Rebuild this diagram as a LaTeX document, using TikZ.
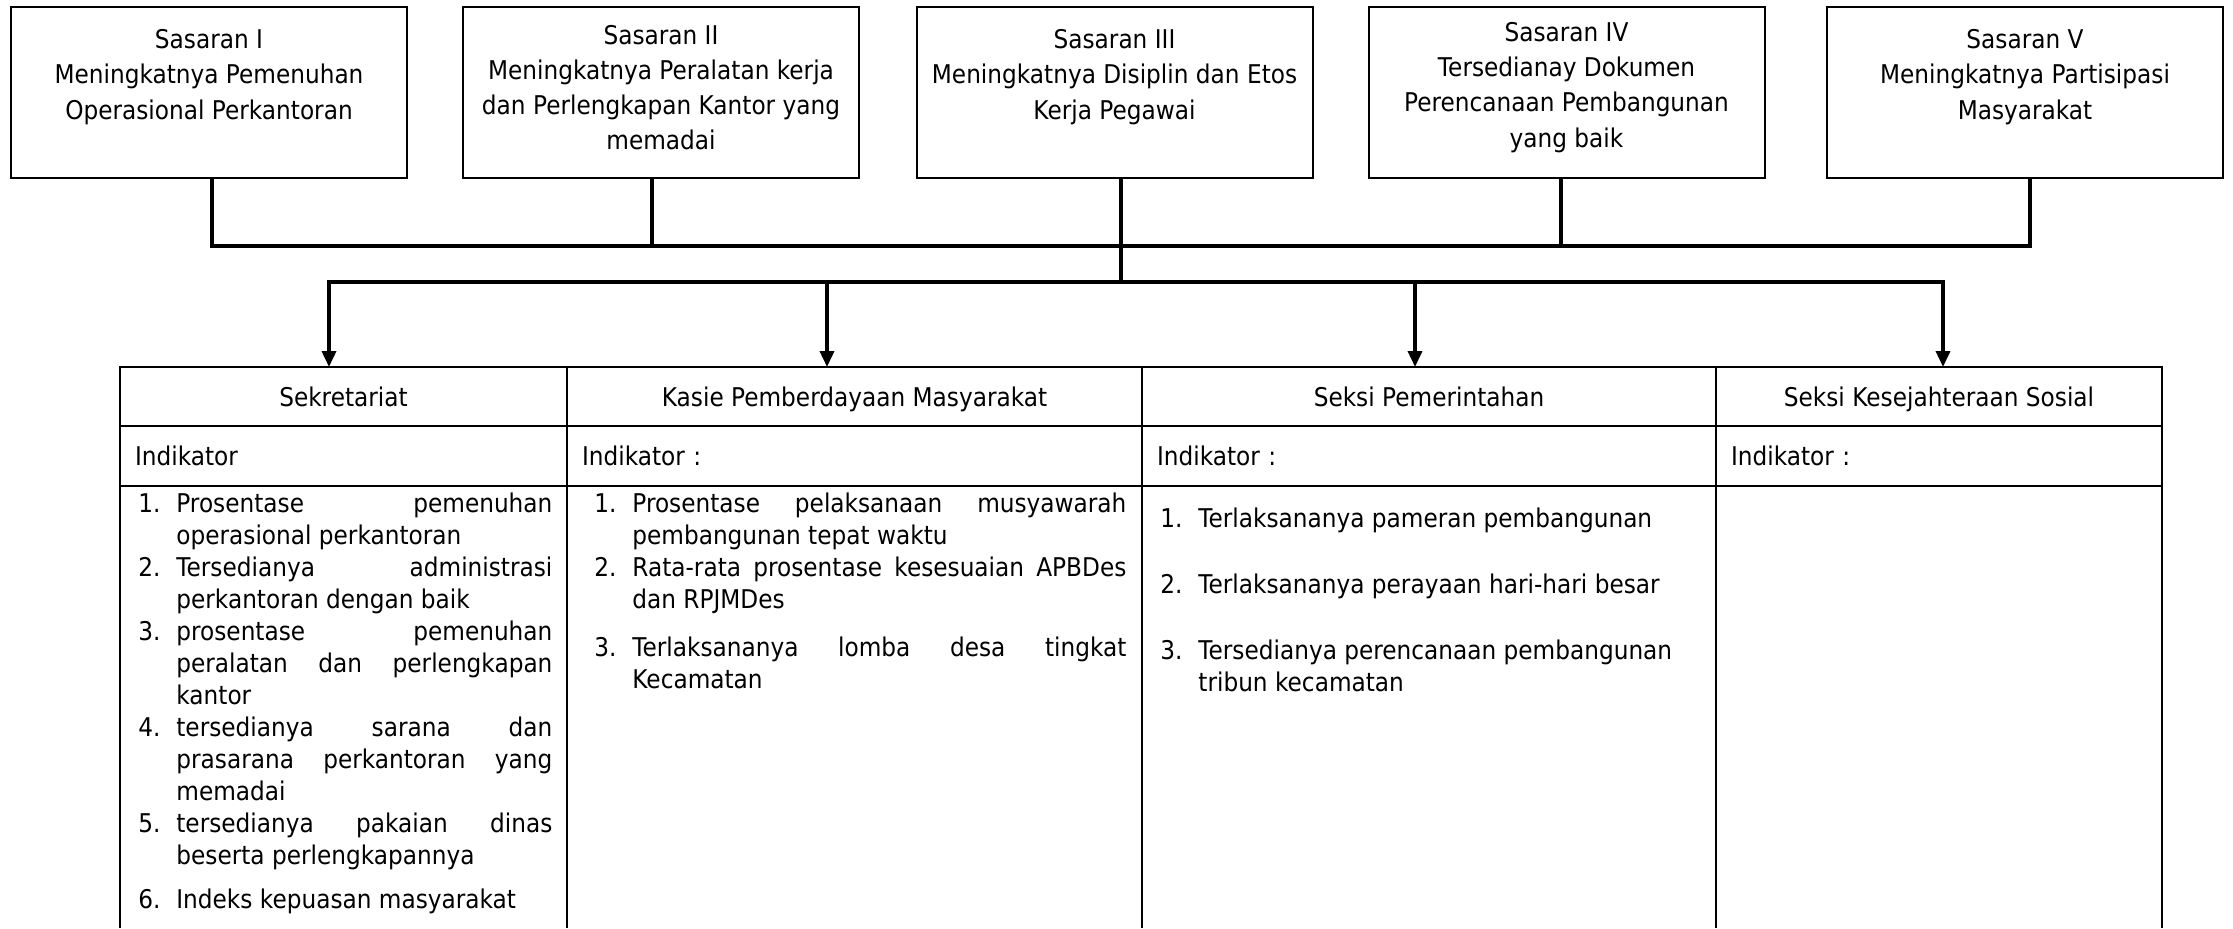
\documentclass[tikz,border=0pt]{standalone}
\usepackage{fontspec}
\setmainfont{DejaVu Sans}[FakeStretch=0.9]
\usetikzlibrary{arrows.meta}

% nomor butir daftar dengan indentasi gantung
\newcommand{\nomor}[2]{\par\hangindent=19pt\hangafter=1\noindent\makebox[19pt][l]{#1}#2}
\newcommand{\rapi}{\hyphenpenalty=10000 \exhyphenpenalty=10000 \tolerance=10000 \hbadness=10000 }

\begin{document}
\begin{tikzpicture}[x=0.5pt,y=-0.5pt,
        font=\fontsize{12.9}{17.6}\selectfont,
        sasaran/.style={draw,line width=1pt,minimum width=198pt,minimum height=85.5pt},
        judul/.style={align=center,inner sep=0pt},
        kepala/.style={draw,line width=1.2pt,outer sep=0pt,inner sep=0pt,minimum height=29.5pt,
            text height=11.5pt,text depth=1.2pt},
        indik/.style={draw,line width=1.2pt,outer sep=0pt,inner xsep=7.5pt,minimum height=30pt,align=left},
        daftar/.style={anchor=north west,inner sep=0pt,align=justify,font=\fontsize{12.9}{16}\selectfont},
        tabel/.style={line width=1.2pt},
        garis/.style={line width=1.8pt,line cap=rect},
        panah/.style={line width=1.8pt,-{Triangle[length=8pt,width=7pt]}}]
    \path[use as bounding box,fill=white] (0,0) rectangle (2233,928);

    % sasaran
    \node[sasaran] (s1) at (209,92.5) {};
    \node[sasaran] (s2) at (661,92.5) {};
    \node[sasaran] (s3) at (1114.5,92.5) {};
    \node[sasaran] (s4) at (1566.5,92.5) {};
    \node[sasaran] (s5) at (2025,92.5) {};
    \node[judul] (t1) at (s1 |- 0,77) {Sasaran I\\Meningkatnya Pemenuhan\\Operasional Perkantoran};
    \node[judul] (t2) at (s2 |- 0,87.5) {Sasaran II\\Meningkatnya Peralatan kerja\\dan Perlengkapan Kantor yang\\memadai};
    \node[judul] (t3) at (s3 |- 0,77) {Sasaran III\\Meningkatnya Disiplin dan Etos\\Kerja Pegawai};
    \node[judul] (t4) at (s4 |- 0,87.5) {Sasaran IV\\Tersedianay Dokumen\\Perencanaan Pembangunan\\yang baik};
    \node[judul] (t5) at (s5 |- 0,77) {Sasaran V\\Meningkatnya Partisipasi\\Masyarakat};

    % tabel seksi
    \node[kepala,minimum width=223.5pt] (h1) at (343.5,396.5) {Sekretariat};
    \node[kepala,minimum width=287.5pt] (h2) at (854.5,396.5) {Kasie Pemberdayaan Masyarakat};
    \node[kepala,minimum width=287pt] (h3) at (1429,396.5) {Seksi Pemerintahan};
    \node[kepala,minimum width=223pt] (h4) at (1939,396.5) {Seksi Kesejahteraan Sosial};
    \node[indik,text width=208.5pt] (i1) at (343.5,456) {Indikator};
    \node[indik,text width=272.5pt] (i2) at (854.5,456) {Indikator :};
    \node[indik,text width=272pt] (i3) at (1429,456) {Indikator :};
    \node[indik,text width=208pt] (i4) at (1939,456) {Indikator :};
    \foreach \i in {1,...,4}
        \draw[tabel] (i\i.south west) -- ++(0,442);
    \draw[tabel] (i4.south east) -- ++(0,442);

    \node[daftar,text width=207pt] (l1) at (138,480) {\rapi
        \nomor{1.}{Prosentase pemenuhan\linebreak operasional perkantoran}
        \nomor{2.}{Tersedianya administrasi\linebreak perkantoran dengan baik}
        \nomor{3.}{prosentase pemenuhan\linebreak peralatan dan perlengkapan\linebreak kantor}
        \nomor{4.}{tersedianya sarana dan\linebreak prasarana perkantoran yang\linebreak memadai}
        \nomor{5.}{tersedianya pakaian dinas\linebreak beserta perlengkapannya}
        \par\vspace{6pt}
        \nomor{6.}{Indeks kepuasan masyarakat}\par};
    \node[daftar,text width=266pt] (l2) at (594,480) {\rapi
        \nomor{1.}{Prosentase pelaksanaan musyawarah\linebreak pembangunan tepat waktu}
        \nomor{2.}{Rata-rata prosentase kesesuaian APBDes\linebreak dan RPJMDes}
        \par\vspace{8pt}
        \nomor{3.}{Terlaksananya lomba desa tingkat\linebreak Kecamatan}\par};
    \node[daftar,text width=270pt] (l3) at (1160,495) {\rapi
        \nomor{1.}{Terlaksananya pameran pembangunan}
        \par\vspace{17pt}
        \nomor{2.}{Terlaksananya perayaan hari-hari besar}
        \par\vspace{17pt}
        \nomor{3.}{Tersedianya perencanaan pembangunan\hfil\break tribun kecamatan}\par};

    % garis penghubung
    \coordinate (b1) at (212,246);
    \coordinate (b2) at (652,246);
    \coordinate (b3) at (1121,246);
    \coordinate (b4) at (1561,246);
    \coordinate (b5) at (2030,246);
    \coordinate (j) at (1121,282);
    \coordinate (a1) at (329,282);
    \coordinate (a2) at (827,282);
    \coordinate (a3) at (1415,282);
    \coordinate (a4) at (1943,282);

    \foreach \i in {1,...,5}
        \draw[garis] (b\i |- s\i.south) -- (b\i);
    \draw[garis,line width=1.9pt] (b1) -- (b5);
    \draw[garis,line width=2.1pt] (b3) -- (j);
    \draw[garis,line width=2.2pt] (a1) -- (a4);
    \foreach \i in {1,...,4}
        \draw[panah] (a\i) -- (a\i |- h\i.north);
\end{tikzpicture}
\end{document}
